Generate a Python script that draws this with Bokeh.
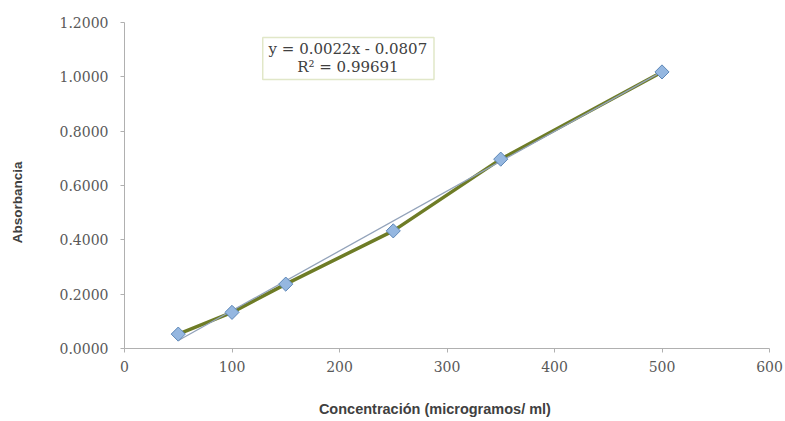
from bokeh.plotting import figure
from bokeh.models import Label, BoxAnnotation, FixedTicker, NumeralTickFormatter, Range1d
from bokeh.embed import file_html
from bokeh.resources import INLINE
import math

# ---- data ----
concentracion = [50, 100, 150, 250, 350, 500]
absorbancia = [0.053, 0.133, 0.237, 0.433, 0.697, 1.018]
x_ticks = [0, 100, 200, 300, 400, 500, 600]
y_ticks = [0.0, 0.2, 0.4, 0.6, 0.8, 1.0, 1.2]
trend_slope = 0.0022
trend_intercept = -0.0807
trend_x = [50, 500]
trend_y = [trend_slope * v + trend_intercept for v in trend_x]
eq_line1 = "y = 0.0022x - 0.0807"
eq_line2 = "R\u00b2 = 0.99691"
x_title = "Concentración (microgramos/ ml)"
y_title = "Absorbancia"

p = figure(width=785, height=421, output_backend="svg", toolbar_location=None,
           x_range=Range1d(0, 600), y_range=Range1d(0, 1.2),
           min_border_left=124, min_border_right=16, min_border_top=22, min_border_bottom=73)
p.outline_line_color = None
p.xgrid.visible = False
p.ygrid.visible = False
p.background_fill_color = "white"

tick_font = "DejaVu Serif"
for ax in (p.xaxis[0], p.yaxis[0]):
    ax.axis_line_color = "#B0B0B0"
    ax.major_tick_line_color = "#B0B0B0"
    ax.minor_tick_line_color = None
    ax.major_tick_out = 4
    ax.major_tick_in = 0
    ax.major_label_text_font = tick_font
    ax.major_label_text_font_size = "14px"
    ax.major_label_text_color = "#595959"
    ax.axis_label_text_font = "Liberation Sans"
    ax.axis_label_text_font_style = "bold"
    ax.axis_label_text_color = "#404040"

p.xaxis.ticker = FixedTicker(ticks=x_ticks)
p.yaxis.ticker = FixedTicker(ticks=y_ticks)
p.yaxis.formatter = NumeralTickFormatter(format="0.0000")
p.xaxis.major_label_standoff = 8
p.yaxis.major_label_standoff = 12

p.yaxis.axis_label = y_title + "\u00a0" * 9
p.yaxis.axis_label_text_font_size = "13.5px"
p.yaxis.axis_label_standoff = 32
p.xaxis.axis_label = x_title + "\u00a0" * 6
p.xaxis.axis_label_text_font_size = "14.5px"
p.xaxis.axis_label_standoff = 26

# series
p.line(concentracion, absorbancia, line_color="#6E7C26", line_width=3.5)
p.line(trend_x, trend_y, line_color="#93A3BA", line_width=1.3)
p.scatter(concentracion, absorbancia, marker="square", angle=math.pi / 4, size=10,
          fill_color="#95B7E0", line_color="#5E88B8", line_width=1)

# equation box
p.add_layout(BoxAnnotation(left=128.6, right=287.9, bottom=0.990, top=1.1448,
                           fill_color="white", fill_alpha=1.0,
                           line_color="#9DB04A", line_width=1.5))
p.add_layout(Label(x=207.8, y=1.104, text=eq_line1, text_align="center", text_baseline="middle",
                   text_font="DejaVu Serif", text_font_size="15px", text_color="#404040"))
p.add_layout(Label(x=207.8, y=1.038, text=eq_line2, text_align="center", text_baseline="middle",
                   text_font="DejaVu Serif", text_font_size="15px", text_color="#404040"))

open("out.html", "w").write(file_html(p, INLINE))
